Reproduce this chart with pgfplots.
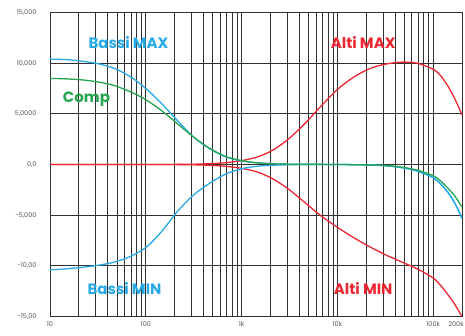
\documentclass[border=0pt]{standalone}
\usepackage{fontspec}
\setmainfont{Liberation Sans}
\newfontfamily\lab{Poppins}
\usepackage{pgfplots}
\pgfplotsset{compat=1.18}
\definecolor{cblue}{RGB}{40,170,230}
\definecolor{cgreen}{RGB}{40,165,80}
\definecolor{cred}{RGB}{235,40,50}
\definecolor{cgrid}{RGB}{50,50,50}
\begin{document}
\begin{tikzpicture}
\begin{axis}[name=ax,
  xmode=log, width=412pt, height=304pt, scale only axis,
  xmin=10, xmax=200000, ymin=-15, ymax=15,
  xtick={10,100,1000,10000,100000,200000},
  xticklabels={10,100,1k,10k,100k,\hspace*{-12pt}200k},
  minor xtick={20,30,40,50,60,70,80,90,200,300,400,500,600,700,800,900,2000,3000,4000,5000,6000,7000,8000,9000,20000,30000,40000,50000,60000,70000,80000,90000},
  ytick={-15,-10,-5,0,5,10,15},
  yticklabels={{-15,00},{-10,00},{-5,000},{0,0},{5,0000},{10,000},{15,000}},
  grid=both,
  major grid style={draw=cgrid, line width=0.9pt},
  minor grid style={draw=cgrid, line width=0.9pt},
  axis line style={draw=cgrid, line width=0.9pt},
  major tick length=0pt, minor tick length=0pt,
  ticklabel style={font=\lab\fontsize{6.5}{8}\selectfont, text=black!65},
  yticklabel style={xshift=-10pt},
  xticklabel style={yshift=-2pt},
  every axis plot/.append style={line width=1.3pt, smooth, no marks},
]
% Alti MIN
\addplot[cred] coordinates {(10,0) (100,0) (215.4,-0.01) (316.2,-0.03) (464.2,-0.08) (681.3,-0.18) (1000,-0.38) (1468,-0.75) (2154,-1.45) (3162,-2.5) (4642,-3.8) (6813,-5.1) (10000,-6.2) (14678,-7.2) (21544,-8.1) (31623,-8.9) (46416,-9.6) (68129,-10.3) (100000,-11.2) (118850,-11.9) (141254,-12.8) (167880,-13.8) (200000,-15)};
% Alti MAX
\addplot[cred] coordinates {(10,0) (100,0) (215.4,0.01) (316.2,0.03) (464.2,0.08) (681.3,0.18) (1000,0.38) (1468,0.75) (2154,1.45) (3162,2.6) (4642,4.1) (6813,5.8) (10000,7.4) (14678,8.6) (21544,9.45) (31623,9.9) (46416,10.1) (68129,10.0) (100000,9.4) (118850,8.8) (141254,7.8) (167880,6.5) (200000,4.9)};
% Bassi MIN
\addplot[cblue] coordinates {(10,-10.4) (14.68,-10.3) (21.54,-10.15) (31.62,-9.95) (46.42,-9.65) (68.13,-9.1) (100,-8.2) (146.8,-6.6) (215.4,-4.6) (316.2,-3.0) (464.2,-1.85) (681.3,-0.95) (1000,-0.42) (1468,-0.17) (2154,-0.07) (3162,-0.03) (10000,0) (21544,-0.05) (31623,-0.12) (46416,-0.3) (68129,-0.65) (100000,-1.3) (118850,-1.9) (141254,-2.7) (167880,-3.8) (200000,-5.3)};
% Bassi MAX
\addplot[cblue] coordinates {(10,10.4) (14.68,10.35) (21.54,10.2) (31.62,9.95) (46.42,9.5) (68.13,8.7) (100,7.5) (146.8,6.0) (215.4,4.3) (316.2,2.7) (464.2,1.55) (681.3,0.75) (1000,0.35) (1468,0.15) (2154,0.07) (3162,0.03) (10000,0) (21544,-0.05) (31623,-0.12) (46416,-0.3) (68129,-0.65) (100000,-1.3) (118850,-1.9) (141254,-2.7) (167880,-3.8) (200000,-5.3)};
% Comp
\addplot[cgreen] coordinates {(10,8.5) (14.68,8.45) (21.54,8.35) (31.62,8.15) (46.42,7.8) (68.13,7.2) (100,6.4) (146.8,5.3) (215.4,4.0) (316.2,2.7) (464.2,1.6) (681.3,0.8) (1000,0.38) (1468,0.17) (2154,0.07) (3162,0.03) (10000,0) (21544,-0.04) (31623,-0.1) (46416,-0.25) (68129,-0.55) (100000,-1.1) (118850,-1.6) (141254,-2.3) (167880,-3.1) (200000,-4.2)};
\node[text=cblue, font=\lab\fontsize{15}{17}\selectfont\bfseries] at (axis cs:66,12) {Bassi MAX};
\node[text=cgreen, font=\lab\fontsize{15}{17}\selectfont\bfseries] at (axis cs:24,6.4) {Comp};
\node[text=cred, font=\lab\fontsize{15}{17}\selectfont\bfseries] at (axis cs:18600,12) {Alti MAX};
\node[text=cblue, font=\lab\fontsize{15}{17}\selectfont\bfseries] at (axis cs:60,-12.2) {Bassi MIN};
\node[text=cred, font=\lab\fontsize{15}{17}\selectfont\bfseries] at (axis cs:18600,-12.2) {Alti MIN};
\end{axis}
\pgfresetboundingbox
\path ([shift={(-50pt,-19.5pt)}]ax.south west) rectangle ([shift={(3pt,12.5pt)}]ax.north east);
\end{tikzpicture}
\end{document}
